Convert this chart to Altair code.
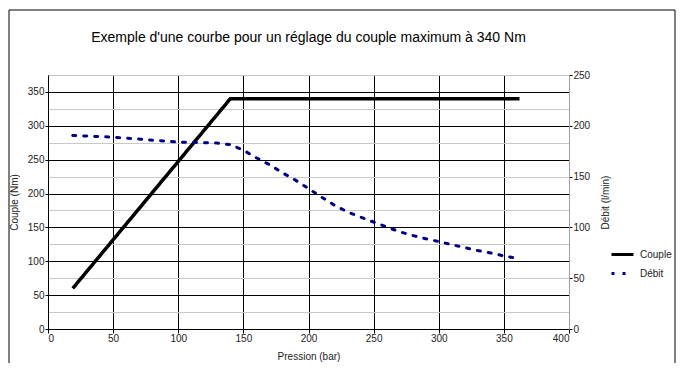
import altair as alt
import pandas as pd

# ---- data ----
pression_couple = [19, 140, 362]
couple = [60, 340, 340]

pression_debit = [19, 50, 100, 130, 140, 150, 160, 170, 180, 190, 200, 210, 220, 230,
                  240, 250, 260, 270, 280, 290, 300, 310, 320, 330, 340, 350, 362]
debit = [190.5, 188.8, 184, 183, 181.5, 176, 168.5, 161.8, 153.8, 146.5, 138.2, 129.8,
         121.8, 115.2, 110.1, 105.3, 100.4, 95.7, 92, 88.9, 86, 83, 80.1, 77.2, 74.8, 72, 69]

series = ["Couple", "Débit"]
x_ticks = list(range(0, 401, 50))
y_left_ticks = list(range(0, 376, 25))
y_right_ticks = list(range(0, 251, 50))

title_text = "Exemple d'une courbe pour un réglage du couple maximum à 340 Nm"

FONT = "Liberation Sans"

df_c = pd.DataFrame({"Pression": pression_couple, "Valeur": couple, "Série": series[0]})
df_d = pd.DataFrame({"Pression": pression_debit, "Valeur": debit, "Série": series[1]})

x_enc = alt.X(
    "Pression:Q",
    scale=alt.Scale(domain=[0, 400], nice=False),
    axis=alt.Axis(
        title="Pression (bar)", values=x_ticks, grid=True,
        gridColor={"condition": {"test": "datum.value === 400", "value": "#a0a0a0"}, "value": "#000000"},
        domainColor="#000000", tickColor="#000000", tickSize=4, labelPadding=0,
        labelColor="#222222", labelFont=FONT, labelFontSize=10,
        titleFont=FONT, titleFontSize=10, titleFontWeight="normal", titleColor="#222222",
        titlePadding=8,
    ),
)

legend = alt.Legend(
    title=None, orient="none", legendX=562, legendY=167,
    symbolType="stroke", symbolSize=484, symbolStrokeWidth=3,
    labelFont=FONT, labelFontSize=10, labelColor="#222222", labelOffset=5,
    rowPadding=-9,
)

color_enc = alt.Color(
    "Série:N",
    scale=alt.Scale(domain=series, range=["#000000", "#000080"]),
    legend=legend,
)
dash_enc = alt.StrokeDash(
    "Série:N",
    scale=alt.Scale(domain=series, range=[[1, 0], [3, 8]]),
    legend=legend,
)

couple_line = alt.Chart(df_c).mark_line(strokeWidth=3.5).encode(
    x=x_enc,
    y=alt.Y(
        "Valeur:Q",
        scale=alt.Scale(domain=[0, 375], nice=False),
        axis=alt.Axis(
            title="Couple (Nm)", values=y_left_ticks,
            labelExpr="datum.value % 50 === 0 ? datum.label : ''",
            gridColor={"condition": {"test": "datum.value % 50 === 0", "value": "#000000"}, "value": "#c8c8c8"},
            tickColor={"condition": {"test": "datum.value % 50 === 0", "value": "#000000"}, "value": "transparent"},
            domainColor="#000000", tickSize=3, labelPadding=1,
            labelColor="#222222", labelFont=FONT, labelFontSize=10,
            titleFont=FONT, titleFontSize=10, titleFontWeight="normal", titleColor="#222222",
            titlePadding=8,
        ),
    ),
    color=color_enc,
    strokeDash=dash_enc,
)

debit_line = alt.Chart(df_d).mark_line(strokeWidth=3, strokeCap="round").encode(
    x=x_enc,
    y=alt.Y(
        "Valeur:Q",
        scale=alt.Scale(domain=[0, 250], nice=False),
        axis=alt.Axis(
            title="Débit (l/min)", orient="right", values=y_right_ticks, grid=False,
            domainColor="#a0a0a0", tickColor="#000000", tickSize=3, labelPadding=1,
            labelColor="#222222", labelFont=FONT, labelFontSize=10,
            titleFont=FONT, titleFontSize=10, titleFontWeight="normal", titleColor="#222222",
            titleAngle=270, titlePadding=21,
        ),
    ),
    color=color_enc,
    strokeDash=dash_enc,
)

frame = alt.Chart(alt.Data(values=[{"f": 1}])).mark_rect(
    fill=None, stroke="#000000", strokeWidth=1
).encode(
    x=alt.value(-39), x2=alt.value(627), y=alt.value(-65), y2=alt.value(320)
)

chart = alt.layer(frame, couple_line, debit_line).resolve_scale(
    y="independent"
).properties(
    width=521,
    height=254,
    autosize=alt.AutoSizeParams(type="none"),
    padding={"left": 40, "top": 67, "right": 107, "bottom": 34},
    title=alt.TitleParams(
        text=title_text, font=FONT, fontSize=14, fontWeight="normal",
        color="#000000", anchor="middle", frame="group", offset=-35,
    ),
).configure_view(stroke=None).configure(background="white")

chart.save("out.html", embed_options={"renderer": "svg", "actions": False})
